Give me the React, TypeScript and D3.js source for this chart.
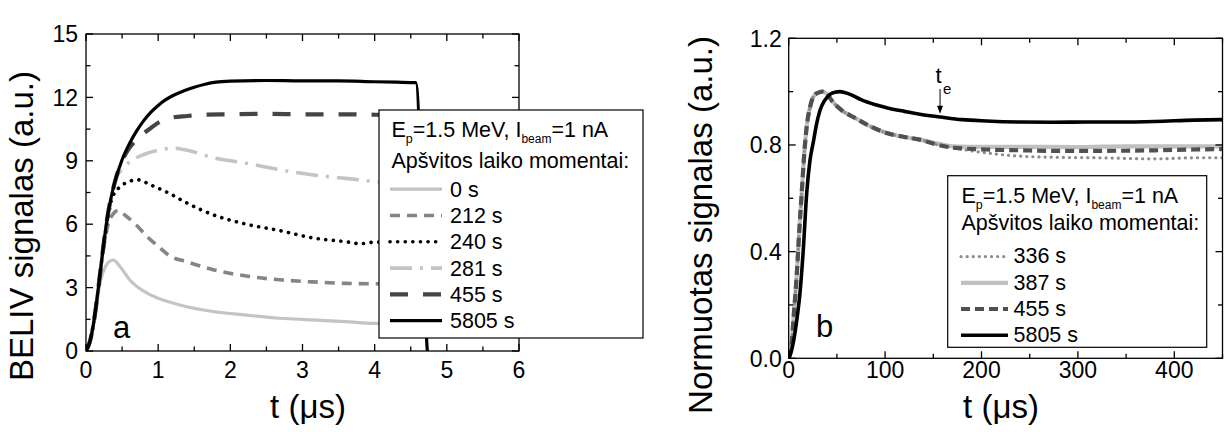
import React from "react";
import * as d3 from "d3";

// ---------- Panel a data (t in µs, signal in a.u.) ----------
const a0s: [number, number][] = [[0,0],[0.05,0.4],[0.1,1.2],[0.15,2.3],[0.2,3.3],[0.27,4.0],[0.33,4.25],[0.38,4.3],[0.47,4.0],[0.61,3.35],[0.84,2.75],[1.0,2.5],[1.3,2.18],[1.76,1.87],[2.22,1.7],[2.68,1.55],[3.14,1.47],[3.6,1.39],[4.0,1.31],[4.5,1.3]];
const a212s: [number, number][] = [[0,0],[0.05,0.4],[0.1,1.2],[0.15,2.4],[0.2,3.8],[0.25,5.0],[0.3,5.9],[0.38,6.5],[0.45,6.65],[0.55,6.4],[0.7,5.95],[0.85,5.4],[1.0,4.95],[1.16,4.5],[1.4,4.22],[1.76,3.85],[2.22,3.55],[2.68,3.37],[3.14,3.27],[3.6,3.2],[4.0,3.18],[4.5,3.18]];
const a240s: [number, number][] = [[0,0],[0.05,0.4],[0.1,1.2],[0.15,2.4],[0.2,3.8],[0.25,5.2],[0.3,6.2],[0.35,7.1],[0.45,7.7],[0.55,7.95],[0.72,8.1],[0.9,7.85],[1.16,7.45],[1.4,7.0],[1.76,6.45],[2.22,6.0],[2.68,5.7],[3.14,5.35],[3.6,5.17],[3.8,5.08],[4.0,5.15],[4.5,5.15]];
const a281s: [number, number][] = [[0,0],[0.05,0.4],[0.1,1.2],[0.15,2.4],[0.2,3.8],[0.25,5.2],[0.3,6.4],[0.35,7.2],[0.42,8.2],[0.5,8.6],[0.65,9.05],[0.8,9.3],[1.0,9.5],[1.2,9.6],[1.4,9.5],[1.76,9.15],[2.2,8.9],[2.7,8.57],[3.15,8.33],[3.6,8.17],[4.0,8.02],[4.5,7.95]];
const a455s: [number, number][] = [[0,0],[0.05,0.4],[0.1,1.2],[0.15,2.4],[0.2,3.8],[0.25,5.2],[0.3,6.4],[0.35,7.3],[0.4,8.0],[0.5,9.0],[0.6,9.6],[0.7,10.0],[0.8,10.3],[0.9,10.55],[1.0,10.8],[1.1,10.95],[1.2,11.05],[1.4,11.12],[1.6,11.18],[2.0,11.2],[2.5,11.22],[3.0,11.2],[3.5,11.2],[4.0,11.18],[4.5,11.15]];
const a5805s: [number, number][] = [[0,0],[0.05,0.4],[0.1,1.2],[0.15,2.4],[0.2,3.8],[0.25,5.2],[0.3,6.4],[0.35,7.3],[0.4,8.0],[0.5,9.05],[0.6,9.8],[0.7,10.4],[0.8,10.9],[0.9,11.3],[1.0,11.62],[1.1,11.88],[1.2,12.08],[1.35,12.3],[1.5,12.48],[1.65,12.62],[1.8,12.72],[2.0,12.77],[2.5,12.8],[3.0,12.78],[3.5,12.78],[4.0,12.74],[4.3,12.72],[4.57,12.7],[4.73,0],[4.76,-1]];

// ---------- Panel b data (t in µs, normalised signal) ----------
const b336s: [number, number][] = [[0,0],[3,0.05],[5,0.15],[8.3,0.31],[11,0.48],[13.5,0.62],[16,0.76],[18.7,0.87],[22,0.94],[25.5,0.98],[30,0.995],[35,1.0],[40,0.99],[45,0.965],[55,0.93],[67,0.905],[84.5,0.87],[101.6,0.845],[120,0.83],[136,0.82],[155,0.8],[170,0.79],[205,0.77],[240,0.758],[274,0.754],[320,0.752],[380,0.748],[420,0.752],[450,0.752]];
const b387s: [number, number][] = [[0,0],[3,0.05],[5,0.15],[8.3,0.31],[11,0.48],[13.5,0.62],[16,0.76],[18.7,0.87],[22,0.94],[25.5,0.98],[30,0.995],[35,1.0],[40,0.99],[45,0.965],[55,0.93],[67,0.905],[84.5,0.87],[101.6,0.845],[120,0.83],[136,0.82],[155,0.805],[170,0.795],[205,0.793],[250,0.793],[300,0.792],[350,0.795],[400,0.795],[450,0.795]];
const b455s: [number, number][] = [[0,0],[3,0.05],[5,0.15],[8.3,0.31],[11,0.48],[13.5,0.62],[16,0.76],[18.7,0.87],[22,0.94],[25.5,0.98],[30,0.995],[35,1.0],[40,0.99],[45,0.965],[55,0.93],[67,0.905],[84.5,0.87],[101.6,0.845],[120,0.83],[136,0.82],[155,0.8],[170,0.79],[205,0.783],[240,0.78],[274,0.778],[320,0.778],[380,0.78],[420,0.783],[450,0.785]];
const b5805s: [number, number][] = [[0,0],[3,0.03],[6.5,0.095],[9,0.16],[11.7,0.245],[15,0.4],[18.7,0.62],[22,0.74],[25.5,0.81],[29,0.88],[32.5,0.93],[37,0.965],[42.8,0.99],[48,0.998],[53,1.0],[58,0.997],[65,0.988],[75,0.97],[90,0.951],[101.6,0.94],[120,0.926],[136,0.915],[157,0.905],[180,0.895],[205,0.89],[240,0.886],[274,0.885],[310,0.886],[344,0.886],[380,0.888],[420,0.893],[450,0.895]];

// ---------- Ticks and labels ----------
const aXTicks = [0, 1, 2, 3, 4, 5, 6];
const aYTicks = [0, 3, 6, 9, 12, 15];
const bXTicks = [0, 100, 200, 300, 400];
const bYTicks = [0, 0.4, 0.8, 1.2];
const aLegendLabels = ["0 s", "212 s", "240 s", "281 s", "455 s", "5805 s"];
const bLegendLabels = ["336 s", "387 s", "455 s", "5805 s"];
const teTime = 157;
const teValue = 0.906;

const FONT = "'Liberation Sans', Arial, Helvetica, sans-serif";

type Style = { stroke: string; width: number; dash?: string; cap?: string };

const aStyles: Style[] = [
  { stroke: "#c4c4c4", width: 3.2 },
  { stroke: "#858585", width: 3.6, dash: "10 7" },
  { stroke: "#000", width: 3.6, dash: "0.1 7.5", cap: "round" },
  { stroke: "#c4c4c4", width: 3.6, dash: "22 8 3 8" },
  { stroke: "#454545", width: 4.2, dash: "18 15" },
  { stroke: "#000", width: 3.2 },
];
const bStyles: Style[] = [
  { stroke: "#8c8c8c", width: 3.2, dash: "0.1 6", cap: "round" },
  { stroke: "#c0c0c0", width: 4.2 },
  { stroke: "#505050", width: 4.2, dash: "9 5" },
  { stroke: "#000", width: 3.6 },
];

function Frame({ x, y, minorX, minorY, majorX, majorY }: any) {
  const [x0, x1] = x.range();
  const [y0, y1] = y.range();
  const els: any[] = [];
  majorX.forEach((v: number, i: number) => {
    const px = x(v);
    els.push(<line key={"mx" + i} x1={px} x2={px} y1={y0} y2={y0 - 7} />);
    els.push(<line key={"mxt" + i} x1={px} x2={px} y1={y1} y2={y1 + 7} />);
  });
  minorX.forEach((v: number, i: number) => {
    const px = x(v);
    els.push(<line key={"nx" + i} x1={px} x2={px} y1={y0} y2={y0 - 4.5} />);
    els.push(<line key={"nxt" + i} x1={px} x2={px} y1={y1} y2={y1 + 4.5} />);
  });
  majorY.forEach((v: number, i: number) => {
    const py = y(v);
    els.push(<line key={"my" + i} x1={x0} x2={x0 + 7} y1={py} y2={py} />);
    els.push(<line key={"myr" + i} x1={x1} x2={x1 - 7} y1={py} y2={py} />);
  });
  minorY.forEach((v: number, i: number) => {
    const py = y(v);
    els.push(<line key={"ny" + i} x1={x0} x2={x0 + 4.5} y1={py} y2={py} />);
    els.push(<line key={"nyr" + i} x1={x1} x2={x1 - 4.5} y1={py} y2={py} />);
  });
  return (
    <g stroke="#000" strokeWidth={1.3} fill="none">
      {els}
      <rect x={x0} y={y1} width={x1 - x0} height={y0 - y1} />
    </g>
  );
}

function Curve({ data, x, y, s }: any) {
  const line = d3
    .line<[number, number]>()
    .x((d) => x(d[0]))
    .y((d) => y(d[1]))
    .curve(d3.curveMonotoneX);
  return (
    <path
      d={line(data) || ""}
      fill="none"
      stroke={s.stroke}
      strokeWidth={s.width}
      strokeDasharray={s.dash}
      strokeLinecap={(s.cap as any) || "butt"}
      strokeLinejoin="round"
    />
  );
}

function HeaderLine({ x, y }: { x: number; y: number }) {
  return (
    <text x={x} y={y} fontSize={21.5} fontFamily={FONT}>
      <tspan>E</tspan>
      <tspan dy={6} fontSize={12.5}>p</tspan>
      <tspan dy={-6}>=1.5 MeV, I</tspan>
      <tspan dy={6} fontSize={12}>beam</tspan>
      <tspan dy={-6}>=1 nA</tspan>
    </text>
  );
}

export default function App() {
  const xA = d3.scaleLinear().domain([0, 6]).range([86, 519]);
  const yA = d3.scaleLinear().domain([0, 15]).range([351, 34]);
  const xB = d3.scaleLinear().domain([0, 450]).range([788.7, 1222.5]);
  const yB = d3.scaleLinear().domain([0, 1.2]).range([358.3, 38.3]);

  const aMinorX = d3.range(0.5, 6, 1);
  const aMinorY = d3.range(1.5, 15, 3);
  const bMinorX = d3.range(50, 451, 100);
  const bMinorY = d3.range(0.2, 1.2, 0.4);

  const aSeries = [a0s, a212s, a240s, a281s, a455s, a5805s];
  const bSeries = [b336s, b387s, b455s, b5805s];
  const bOrder = [1, 0, 2, 3];

  const lgA = { x: 379, y: 110, w: 264, h: 228 };
  const lgB = { x: 947.7, y: 175.7, w: 259, h: 171.6 };

  return (
    <svg
      width={1225}
      height={432}
      style={{ position: "absolute", left: 0, top: 0, background: "#fff" }}
      fontFamily={FONT}
    >
      <defs>
        <clipPath id="clipA">
          <rect x={86} y={34} width={433} height={317} />
        </clipPath>
        <clipPath id="clipB">
          <rect x={788.7} y={38.3} width={433.8} height={320} />
        </clipPath>
      </defs>
      <rect width={1225} height={432} fill="#fff" />

      {/* ---------------- Panel a ---------------- */}
      <g clipPath="url(#clipA)">
        {[0, 1, 2, 3, 4].map((i) => (
          <Curve key={i} data={aSeries[i]} x={xA} y={yA} s={aStyles[i]} />
        ))}
        <Curve data={aSeries[5]} x={xA} y={yA} s={aStyles[5]} />
      </g>
      <Frame x={xA} y={yA} majorX={aXTicks} majorY={aYTicks} minorX={aMinorX} minorY={aMinorY} />
      {aXTicks.map((v) => (
        <text key={"ax" + v} x={xA(v)} y={378} fontSize={23} textAnchor="middle">
          {v}
        </text>
      ))}
      {aYTicks.map((v) => (
        <text key={"ay" + v} x={78} y={yA(v) + 8.2} fontSize={23} textAnchor="end">
          {v}
        </text>
      ))}
      <text x={113} y={338} fontSize={31}>a</text>
      <text x={308} y={418} fontSize={33} textAnchor="middle">t (μs)</text>
      <text transform="translate(33,226) rotate(-90)" fontSize={33} textAnchor="middle">
        BELIV signalas (a.u.)
      </text>

      {/* legend a */}
      <rect x={lgA.x} y={lgA.y} width={lgA.w} height={lgA.h} fill="#fff" stroke="#000" strokeWidth={1.2} />
      <HeaderLine x={391.5} y={136.7} />
      <text x={391.5} y={168} fontSize={21.5}>Apšvitos laiko momentai:</text>
      {aLegendLabels.map((lab, i) => {
        const by = 196.7 + i * 26.3;
        const s = aStyles[i];
        return (
          <g key={"la" + i}>
            <line
              x1={390}
              x2={442}
              y1={by - 7.5}
              y2={by - 7.5}
              stroke={s.stroke}
              strokeWidth={s.width}
              strokeDasharray={s.dash}
              strokeLinecap={(s.cap as any) || "butt"}
            />
            <text x={450} y={by} fontSize={21.5}>{lab}</text>
          </g>
        );
      })}

      {/* ---------------- Panel b ---------------- */}
      <g clipPath="url(#clipB)">
        {bOrder.map((i) => (
          <Curve key={i} data={bSeries[i]} x={xB} y={yB} s={bStyles[i]} />
        ))}
      </g>
      <Frame x={xB} y={yB} majorX={bXTicks} majorY={bYTicks} minorX={bMinorX} minorY={bMinorY} />
      {bXTicks.map((v) => (
        <text key={"bx" + v} x={xB(v)} y={377.5} fontSize={23} textAnchor="middle">
          {v}
        </text>
      ))}
      {bYTicks.map((v) => (
        <text key={"by" + v} x={781.7} y={yB(v) + 8.2} fontSize={23} textAnchor="end">
          {v.toFixed(1)}
        </text>
      ))}
      <text x={816} y={336.7} fontSize={31}>b</text>
      <text x={1001} y={418} fontSize={33} textAnchor="middle">t (μs)</text>
      <text transform="translate(712,225) rotate(-90)" fontSize={33} textAnchor="middle">
        Normuotas signalas (a.u.)
      </text>

      {/* t_e annotation */}
      <text x={935.5} y={82.7} fontSize={22}>t</text>
      <text x={943} y={93.5} fontSize={15}>e</text>
      <line x1={xB(teTime)} x2={xB(teTime)} y1={89} y2={yB(teValue) - 10} stroke="#000" strokeWidth={1} />
      <path
        d={`M${xB(teTime) - 3},${yB(teValue) - 11} L${xB(teTime) + 3},${yB(teValue) - 11} L${xB(teTime)},${yB(teValue) - 3} Z`}
        fill="#000"
      />

      {/* legend b */}
      <rect x={lgB.x} y={lgB.y} width={lgB.w} height={lgB.h} fill="#fff" stroke="#000" strokeWidth={1.2} />
      <HeaderLine x={961.5} y={203} />
      <text x={961.5} y={230} fontSize={21.5}>Apšvitos laiko momentai:</text>
      {bLegendLabels.map((lab, i) => {
        const by = 263.3 + i * 26.2;
        const s = bStyles[i];
        return (
          <g key={"lb" + i}>
            <line
              x1={961}
              x2={1008}
              y1={by - 6.7}
              y2={by - 6.7}
              stroke={s.stroke}
              strokeWidth={s.width}
              strokeDasharray={s.dash}
              strokeLinecap={(s.cap as any) || "butt"}
            />
            <text x={1013.5} y={by} fontSize={21.5}>{lab}</text>
          </g>
        );
      })}
    </svg>
  );
}
